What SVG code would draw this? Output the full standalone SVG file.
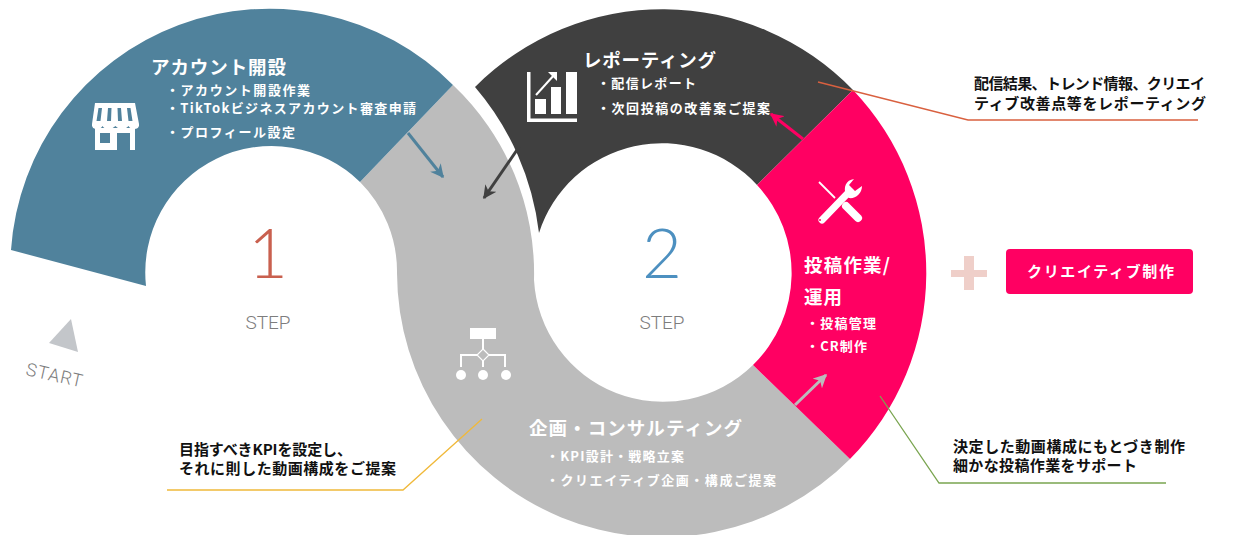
<svg xmlns="http://www.w3.org/2000/svg" width="1235" height="535" viewBox="0 0 1235 535">
<style>
text{font-family:"Noto Sans CJK JP","Noto Sans",sans-serif}
.t{fill:#fff;font-size:18.500px;font-weight:700}
.s{fill:#fff;font-size:13px;font-weight:700}
.c{fill:#111;font-size:15px;font-weight:700}
.num{font-family:Lato,"Noto Sans",sans-serif;font-weight:300;font-size:69px;text-anchor:middle}
.step{font-family:Roboto,"Noto Sans",sans-serif;font-weight:300;font-size:19px;fill:#7d7d7d;text-anchor:middle}
.ln{fill:none;stroke-width:1.3}
.ar{fill:none;stroke-width:3}
.w{fill:#fff}
.wl{fill:none;stroke:#fff}
</style>
<defs>
<marker id="hb" viewBox="0 0 10 10" refX="9" refY="5" markerWidth="4.500" markerHeight="4.500" orient="auto"><path d="M0 0L10 5L0 10L3 5Z" fill="#50829c"/></marker>
<marker id="hd" viewBox="0 0 10 10" refX="9" refY="5" markerWidth="4.500" markerHeight="4.500" orient="auto"><path d="M0 0L10 5L0 10L3 5Z" fill="#404040"/></marker>
<marker id="hp" viewBox="0 0 10 10" refX="9" refY="5" markerWidth="4.500" markerHeight="4.500" orient="auto"><path d="M0 0L10 5L0 10L3 5Z" fill="#ff0062"/></marker>
<marker id="hg" viewBox="0 0 10 10" refX="9" refY="5" markerWidth="4.500" markerHeight="4.500" orient="auto"><path d="M0 0L10 5L0 10L3 5Z" fill="#bcbcbc"/></marker>
</defs>

<g id="node-planning">
<path d="M453 85A259 259 0 0 1 534 280A129 129 0 0 0 753 365L850 459A265 265 0 0 1 397 273A126.400 126.400 0 0 0 360 182Z" fill="#bcbcbc"/>
<text class="t" x="529" y="435" textLength="213">企画・コンサルティング</text>
<text class="s" x="546" y="461" textLength="138">・KPI設計・戦略立案</text>
<text class="s" x="546" y="485" textLength="230">・クリエイティブ企画・構成ご提案</text>
<g id="icon-org">
<rect class="w" x="470" y="328" width="26" height="11"/>
<path class="wl" stroke-width="2" d="M461 367V355H477M489 355H505V367M483 339V349M483 361V367"/>
<path class="wl" stroke-width="1.200" d="M483 349L489 355L483 361L477 355Z"/>
<circle class="w" cx="461" cy="375" r="5"/><circle class="w" cx="483" cy="375" r="5"/><circle class="w" cx="506" cy="375" r="5"/>
</g>
</g>

<g id="node-account">
<path d="M11 250A259 259 0 0 1 453 85L360 182A126.400 126.400 0 0 0 146 286Z" fill="#50829c"/>
<text class="t" x="151" y="74" textLength="135">アカウント開設</text>
<text class="s" x="166" y="95" textLength="144">・アカウント開設作業</text>
<text class="s" x="166" y="112.500" textLength="250">・TikTokビジネスアカウント審査申請</text>
<text class="s" x="166" y="137" textLength="129">・プロフィール設定</text>
<g id="icon-store">
<path class="w" fill-rule="evenodd" d="M95 103H135L139 124V126H92V124ZM98.500 108L96.500 121H100.500L102 108ZM108 108L107 121H111L111.500 108ZM117.500 108L118 121H122L121 108ZM127 108L128.500 121H132.500L130.500 108Z"/>
<path class="w" d="M92 125Q92 129 97 129Q101 129 102.500 126Q104 129 108.500 129Q112.500 129 115.500 126Q118 129 122 129Q126 129 128.500 126Q130 129 134 129Q139 129 139 125Z"/>
<path class="w" fill-rule="evenodd" d="M95 128H135V150H130V133H117V150H95ZM100 133V143H110V133Z"/>
</g>
</g>

<g id="node-report">
<path d="M475 87A265 265 0 0 1 853 90L757 185A129 129 0 0 0 539 233A274 274 0 0 0 475 87Z" fill="#404040"/>
<text class="t" x="583" y="67" textLength="133">レポーティング</text>
<text class="s" x="597" y="88" textLength="99">・配信レポート</text>
<text class="s" x="597" y="113" textLength="173">・次回投稿の改善案ご提案</text>
<g id="icon-chart">
<path class="wl" stroke-width="3.500" d="M528.750 72V120.250H577"/>
<rect class="w" x="535" y="99" width="11" height="15"/>
<rect class="w" x="551" y="87" width="10" height="27"/>
<rect class="w" x="566" y="72" width="11" height="42"/>
<path class="wl" stroke-width="2" d="M536 95L555 74"/>
<path class="w" d="M548 72H557V81Z"/>
</g>
</g>

<g id="node-post">
<path d="M853 90A265 265 0 0 1 850 459L753 365A129 129 0 0 0 757 185Z" fill="#ff0062"/>
<text class="t" x="804" y="272" textLength="86">投稿作業/</text>
<text class="t" x="804" y="304" textLength="38">運用</text>
<text class="s" x="806" y="328" textLength="70">・投稿管理</text>
<text class="s" x="806" y="351" textLength="61">・CR制作</text>
<g id="icon-tools">
<path class="wl" stroke-width="1.800" d="M819 182L835 198"/>
<path class="wl" stroke-width="8" stroke-linecap="round" d="M846 206L858 218"/>
<path class="wl" stroke-width="7" stroke-linecap="round" d="M822 220L849 192"/>
<path class="w" d="M846 195C843 187 846 180 854 179L849 185L855 191L862 186C862 194 855 199 849 198Z"/>
<circle cx="820" cy="220" r="1" fill="#ff0062"/>
</g>
</g>

<g id="plus-button">
<path d="M964 256H974V270H987V277H974V290H964V277H951V270H964Z" fill="#efcfc9"/>
<rect x="1006" y="249" width="187" height="45" rx="4" fill="#ff0062"/>
<text x="1027" y="277" fill="#fff" font-size="15" font-weight="700" textLength="147">クリエイティブ制作</text>
</g>

<g id="step-1">
<text class="num" x="268" y="278" fill="#c9604f">1</text>
<text class="step" x="268" y="329">STEP</text>
</g>
<g id="step-2">
<text class="num" x="662" y="278" fill="#4d90c0">2</text>
<text class="step" x="662" y="329">STEP</text>
</g>
<g id="start">
<path d="M71 319L78 352L49 343Z" fill="#c3c6ca"/>
<text transform="translate(25 375) rotate(12.500)" font-size="18" font-weight="300" fill="#7d7d7d" style="font-family:Roboto,'Noto Sans',sans-serif" letter-spacing="1">START</text>
</g>

<g id="callouts">
<text class="c" x="179" y="455" textLength="173">目指すべきKPIを設定し、</text>
<text class="c" x="179" y="474" textLength="217">それに則した動画構成をご提案</text>
<text class="c" x="974" y="89" textLength="231">配信結果、トレンド情報、クリエイ</text>
<text class="c" x="974" y="109" textLength="232">ティブ改善点等をレポーティング</text>
<text class="c" x="953" y="452" textLength="232">決定した動画構成にもとづき制作</text>
<text class="c" x="953" y="471" textLength="184">細かな投稿作業をサポート</text>
</g>

<g id="connectors">
<path class="ar" stroke="#50829c" marker-end="url(#hb)" d="M408 133L443 177"/>
<path class="ar" stroke="#404040" marker-end="url(#hd)" d="M519 147L484 198"/>
<path class="ar" stroke="#ff0062" marker-end="url(#hp)" d="M803 139L771 114"/>
<path class="ar" stroke="#bcbcbc" marker-end="url(#hg)" d="M795 405L826 375"/>
<path class="ln" stroke="#f0b93a" d="M482 419L403 490H167"/>
<path class="ln" stroke="#7aa550" d="M880 396L939 483H1166"/>
<path class="ln" stroke="#d9603f" d="M818 82L968 120H1198"/>
</g>
</svg>
